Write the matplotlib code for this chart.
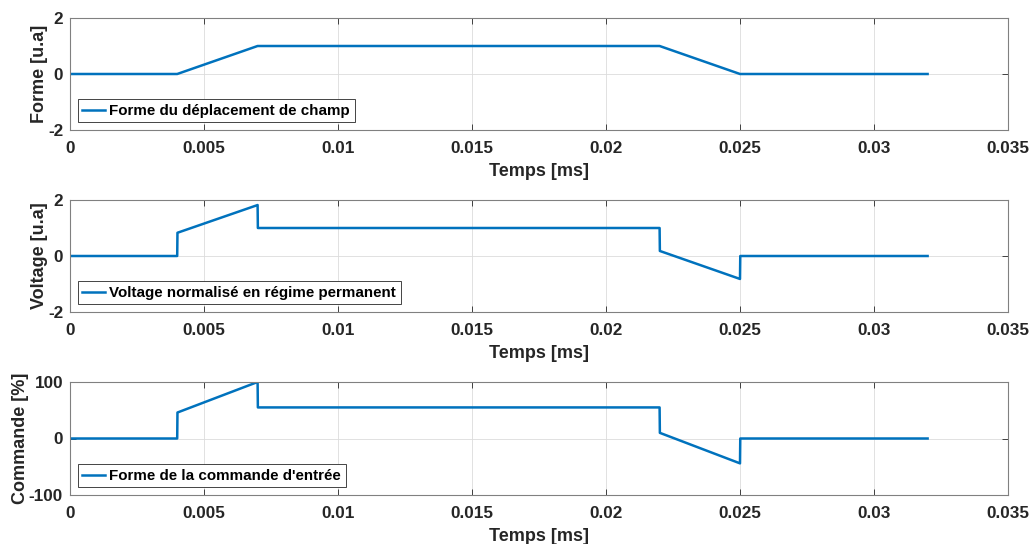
import matplotlib
matplotlib.use("Agg")
import matplotlib.pyplot as plt

# Data (breakpoints)
t_forme = [0, 0.004, 0.007, 0.022, 0.025, 0.032]
forme = [0, 0, 1, 1, 0, 0]

t_volt = [0, 0.004, 0.00401, 0.007, 0.00701, 0.022, 0.02201, 0.025, 0.02501, 0.032]
volt = [0, 0, 0.83, 1.82, 1.0, 1.0, 0.18, -0.82, 0, 0]

t_cmd = [0, 0.004, 0.00401, 0.007, 0.00701, 0.022, 0.02201, 0.025, 0.02501, 0.032]
cmd = [0, 0, 46, 100, 55, 55, 10, -44, 0, 0]

xticks = [0, 0.005, 0.01, 0.015, 0.02, 0.025, 0.03, 0.035]
xticklabels = ["0", "0.005", "0.01", "0.015", "0.02", "0.025", "0.03", "0.035"]

panels = [
    (t_forme, forme, "Forme [u.a]", "Forme du déplacement de champ", (-2, 2), [-2, 0, 2]),
    (t_volt, volt, "Voltage [u.a]", "Voltage normalisé en régime permanent", (-2, 2), [-2, 0, 2]),
    (t_cmd, cmd, "Commande [%]", "Forme de la commande d'entrée", (-100, 100), [-100, 0, 100]),
]

plt.rcParams['font.family'] = ['Liberation Sans', 'DejaVu Sans']
plt.rcParams['font.weight'] = 'bold'

fig = plt.figure(figsize=(10.35, 5.44), dpi=100)
W, H = 1035, 544
tops = [18, 200, 382]
heights = [112, 112, 113]
left, right = 70, 1008

for (t, y, ylab, leg, ylim, yt), top, h in zip(panels, tops, heights):
    ax = fig.add_axes([left / W, 1 - (top + h) / H, (right - left) / W, h / H])
    ax.plot(t, y, color="#0072BD", lw=1.8, label=leg)
    ax.set_xlim(0, 0.035)
    ax.set_ylim(*ylim)
    ax.set_xticks(xticks)
    ax.set_xticklabels(xticklabels)
    ax.set_yticks(yt)
    ax.set_yticklabels([str(v) for v in yt])
    ax.grid(True, color="#dcdcdc", lw=0.6)
    ax.tick_params(direction="in", top=True, right=True, length=4, width=0.6,
                   colors="#262626", labelsize=12.3)
    ax.tick_params(axis="x", pad=8)
    ax.tick_params(axis="y", pad=5)
    for lab in ax.get_xticklabels() + ax.get_yticklabels():
        lab.set_fontweight("bold")
    for sp in ax.spines.values():
        sp.set_color("#808080")
        sp.set_linewidth(0.8)
    ax.set_xlabel("Temps [ms]", fontsize=13, fontweight="bold", color="#262626", labelpad=5)
    ax.set_ylabel(ylab, fontsize=13, fontweight="bold", color="#262626", labelpad=0)
    lg = ax.legend(loc="lower left", fontsize=10.9, fancybox=False, framealpha=1,
                   edgecolor="#262626", handlelength=1.5, borderpad=0.3,
                   handletextpad=0.3, borderaxespad=0.5)
    lg.get_frame().set_linewidth(0.6)
    for txt in lg.get_texts():
        txt.set_fontweight("bold")

fig.savefig("out.png", dpi=100)
